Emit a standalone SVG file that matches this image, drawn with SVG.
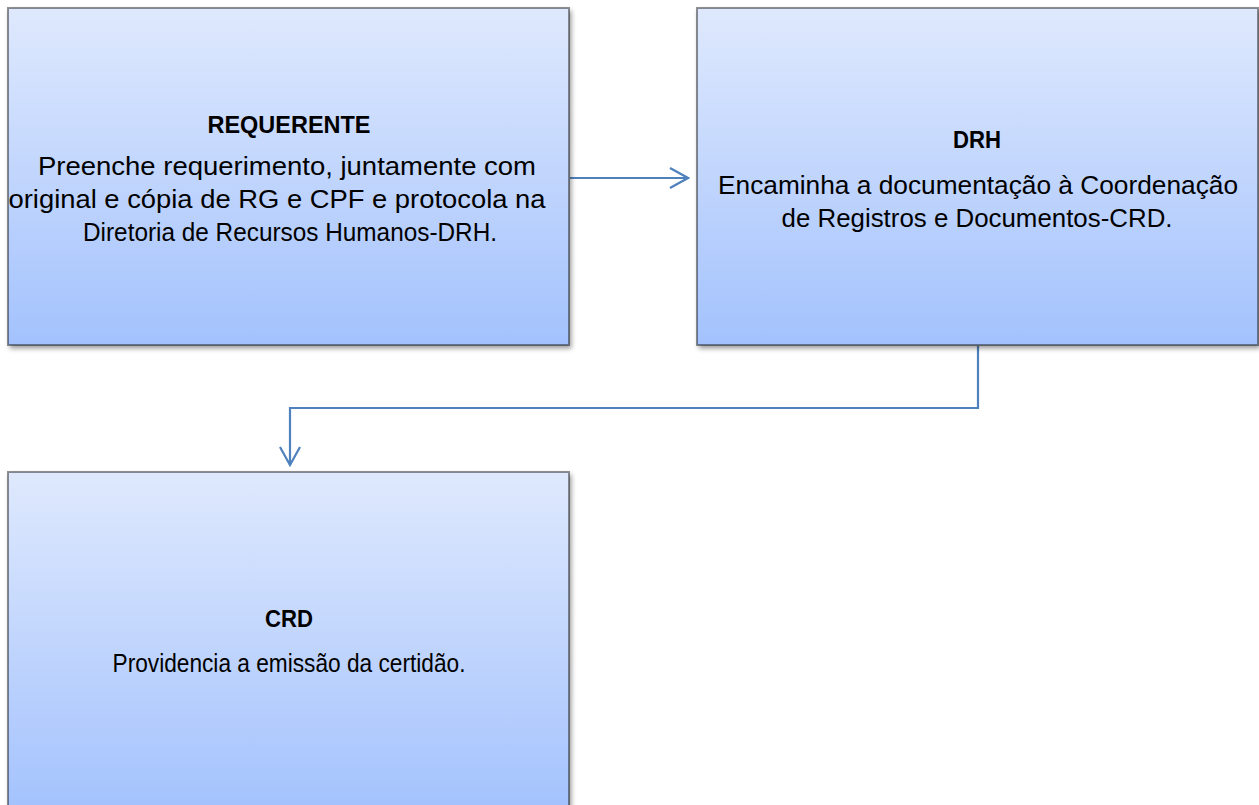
<svg xmlns="http://www.w3.org/2000/svg" width="1259" height="805" viewBox="0 0 1259 805">
<style>
.box{fill:url(#g);stroke:rgba(0,0,0,0.42);stroke-width:2;filter:url(#sh)}
.t{font-family:"Liberation Sans",Arial,sans-serif;font-size:25px;fill:#000;text-anchor:middle}
.b{font-weight:bold;font-size:23px}
.c{fill:none;stroke:#4f81bd;stroke-width:2.2}
</style>
<defs>
<linearGradient id="g" x1="0" y1="0" x2="0" y2="1">
<stop offset="0" stop-color="#dfe9fd"/>
<stop offset="1" stop-color="#a3c2fd"/>
</linearGradient>
<filter id="sh" x="-5%" y="-5%" width="115%" height="115%">
<feGaussianBlur in="SourceAlpha" stdDeviation="2.5"/>
<feOffset dx="2" dy="3" result="o"/>
<feComponentTransfer><feFuncA type="linear" slope="0.4"/></feComponentTransfer>
<feMerge><feMergeNode/><feMergeNode in="SourceGraphic"/></feMerge>
</filter>
<marker id="a2" markerWidth="22" markerHeight="22" viewBox="0 0 22 22" refX="20" refY="11" orient="auto" markerUnits="userSpaceOnUse">
<path d="M2,1 L20,11 L2,21" fill="none" stroke="#4f81bd" stroke-width="2.2"/>
</marker>
</defs>
<g id="connectors">
<path class="c" d="M570,178 L688,178" marker-end="url(#a2)"/>
<path class="c" d="M978,346 L978,408 L290,408 L290,465" marker-end="url(#a2)"/>
</g>
<g id="requerente">
<rect class="box" x="8" y="8" width="561" height="337"/>
<text class="t b" x="289" y="133" textLength="163" lengthAdjust="spacingAndGlyphs">REQUERENTE</text>
<text class="t" x="287" y="175" textLength="498" lengthAdjust="spacingAndGlyphs">Preenche requerimento, juntamente com</text>
<text class="t" x="277" y="208" textLength="537" lengthAdjust="spacingAndGlyphs">original e cópia de RG e CPF e protocola na</text>
<text class="t" x="290" y="241" textLength="414" lengthAdjust="spacingAndGlyphs">Diretoria de Recursos Humanos-DRH.</text>
</g>
<g id="drh">
<rect class="box" x="697" y="8" width="561" height="337"/>
<text class="t b" x="977" y="148" textLength="48" lengthAdjust="spacingAndGlyphs">DRH</text>
<text class="t" x="978" y="194" textLength="520" lengthAdjust="spacingAndGlyphs">Encaminha a documentação à Coordenação</text>
<text class="t" x="977" y="227" textLength="391" lengthAdjust="spacingAndGlyphs">de Registros e Documentos-CRD.</text>
</g>
<g id="crd">
<rect class="box" x="8" y="472" width="561" height="340"/>
<text class="t b" x="289" y="627" textLength="48" lengthAdjust="spacingAndGlyphs">CRD</text>
<text class="t" x="289" y="672" textLength="353" lengthAdjust="spacingAndGlyphs">Providencia a emissão da certidão.</text>
</g>
</svg>
